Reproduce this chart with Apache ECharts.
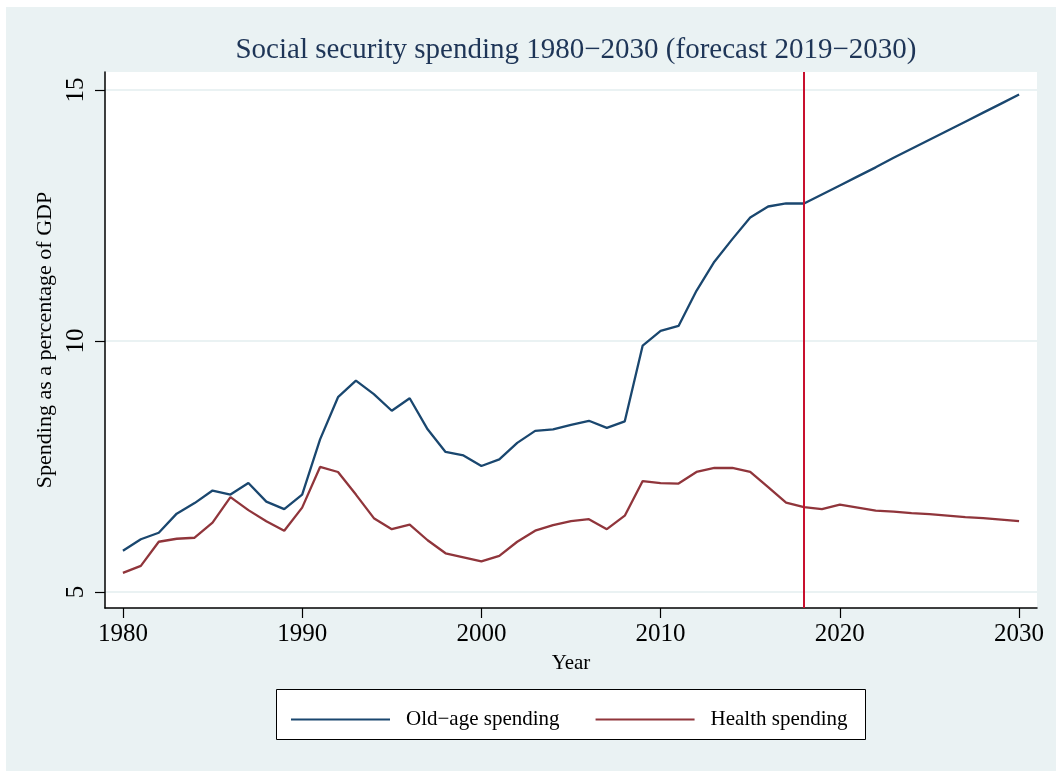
<!DOCTYPE html>
<html>
<head>
<meta charset="utf-8">
<script src="https://cdn.jsdelivr.net/npm/echarts@6/dist/echarts.min.js"></script>
<style>
html,body{margin:0;padding:0;background:#fff;}
#main{position:absolute;left:0;top:0;width:1056px;height:771px;}
.strip{position:absolute;background:#fff;pointer-events:none;}
</style>
</head>
<body>
<div id="main"></div>
<div class="strip" style="left:0;top:0;width:1056px;height:7px;"></div>
<div class="strip" style="left:0;top:0;width:6px;height:771px;"></div>
<script>
const years = [1980,1981,1982,1983,1984,1985,1986,1987,1988,1989,
               1990,1991,1992,1993,1994,1995,1996,1997,1998,1999,
               2000,2001,2002,2003,2004,2005,2006,2007,2008,2009,
               2010,2011,2012,2013,2014,2015,2016,2017,2018,2019,
               2020,2021,2022,2023,2024,2025,2026,2027,2028,2029,2030];
const oldAge = [5.82,6.05,6.18,6.56,6.77,7.02,6.94,7.17,6.80,6.65,
                6.94,8.04,8.88,9.21,8.94,8.61,8.86,8.24,7.79,7.72,
                7.51,7.64,7.97,8.21,8.24,8.33,8.41,8.27,8.40,9.91,
                10.20,10.30,11.00,11.58,12.03,12.46,12.68,12.74,12.74,12.92,
                13.10,13.28,13.46,13.65,13.83,14.01,14.19,14.37,14.55,14.73,14.91];
const health = [5.38,5.52,6.00,6.06,6.08,6.38,6.89,6.63,6.41,6.22,
                6.68,7.49,7.39,6.94,6.47,6.25,6.34,6.03,5.77,5.69,
                5.61,5.72,6.00,6.22,6.33,6.41,6.45,6.25,6.52,7.21,
                7.17,7.16,7.39,7.47,7.47,7.39,7.09,6.78,6.69,6.65,
                6.74,6.68,6.62,6.60,6.57,6.55,6.52,6.49,6.47,6.44,6.41];
const xTicks = [1980,1990,2000,2010,2020,2030];
const yTicks = [5,10,15];
const forecastStart = 2018;
const seriesNames = ['Old\u2212age spending','Health spending'];
const titleText = 'Social security spending 1980\u22122030 (forecast 2019\u22122030)';

const FONT = '"Liberation Serif", "DejaVu Serif", serif';
const chart = echarts.init(document.getElementById('main'), null, {renderer:'canvas'});
const pair = arr => years.map((y,i)=>[y, arr[i]]);

chart.setOption({
  animation:false,
  backgroundColor:'#EAF2F3',
  title:{
    text:titleText, left:571, textAlign:'center', top:31,
    textStyle:{fontFamily:FONT, fontSize:29, fontWeight:'normal', color:'#1e3557'}
  },
  grid:{left:105, top:72, width:932, height:536, show:true, backgroundColor:'#ffffff', borderWidth:0, containLabel:false},
  xAxis:{
    type:'value', min:1979, max:2031,
    name:'Year', nameLocation:'middle', nameGap:45,
    nameTextStyle:{fontFamily:FONT, fontSize:21, color:'#000'},
    axisLine:{show:true, onZero:false, lineStyle:{color:'#000', width:1.5}},
    axisTick:{show:true, length:10, customValues:xTicks, lineStyle:{color:'#000', width:1.2}},
    axisLabel:{customValues:xTicks, fontFamily:FONT, fontSize:25, color:'#000', margin:14,
               formatter:v => String(v)},
    splitLine:{show:false}
  },
  yAxis:{
    type:'value', min:4.68, max:15.36,
    name:'Spending as a percentage of GDP', nameLocation:'middle', nameGap:45, nameRotate:90,
    nameTextStyle:{fontFamily:FONT, fontSize:22, color:'#000'},
    axisLine:{show:true, onZero:false, lineStyle:{color:'#000', width:1.5}},
    axisTick:{show:true, length:10, customValues:yTicks, lineStyle:{color:'#000', width:1.2}},
    axisLabel:{customValues:yTicks, rotate:90, fontFamily:FONT, fontSize:25, color:'#000', margin:16,
               formatter:v => String(v)},
    splitLine:{show:true, lineStyle:{color:'#EAF2F3', width:2}}
  },
  legend:{
    left:286, top:704, icon:'rect', itemWidth:99, itemHeight:2, itemGap:36,
    textStyle:{fontFamily:FONT, fontSize:21, color:'#000', padding:[0,0,0,11]},
    data:seriesNames
  },
  graphic:[{
    type:'rect', left:276, top:689, z:-1,
    shape:{width:589, height:50},
    style:{fill:'#fff', stroke:'#000', lineWidth:1}
  }],
  series:[
    {name:seriesNames[0], type:'line', data:pair(oldAge), showSymbol:false, symbol:'none',
     lineStyle:{color:'#1a476f', width:2.3}, itemStyle:{color:'#1a476f'}, z:3,
     markLine:{silent:true, symbol:'none', label:{show:false},
       lineStyle:{color:'#c8102e', width:2, type:'solid'}, data:[{xAxis:forecastStart}]}},
    {name:seriesNames[1], type:'line', data:pair(health), showSymbol:false, symbol:'none',
     lineStyle:{color:'#90353b', width:2.3}, itemStyle:{color:'#90353b'}, z:2}
  ]
});
</script>
</body>
</html>
